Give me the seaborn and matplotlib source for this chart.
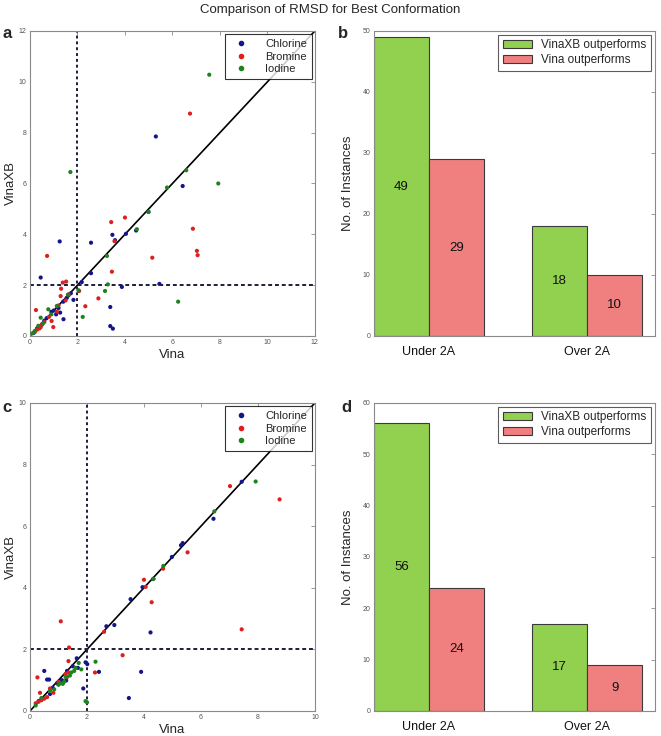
import numpy as np
import pandas as pd
import seaborn as sns
import matplotlib.pyplot as plt
from matplotlib.lines import Line2D

# scatter data, panel a (Vina RMSD, VinaXB RMSD)
a_chlorine_x = [5.3, 1.25, 0.45, 2.57, 2.57, 3.47, 3.58, 4.04, 4.47, 4.99, 6.43, 5.45, 3.87, 2.18, 3.38, 3.38, 3.49,
                1.72, 1.83, 1.62, 1.4, 1.27, 1.41, 1.1, 0.7, 0.9, 1.2, 0.6, 0.3, 0.15, 0.5, 1.55, 1.0]
a_chlorine_y = [7.85, 3.72, 2.3, 3.67, 2.47, 3.98, 3.77, 4.02, 4.15, 4.88, 5.9, 2.05, 1.93, 2.12, 1.14, 0.39, 0.29,
                1.68, 1.42, 1.6, 1.35, 0.92, 0.66, 0.85, 0.7, 0.95, 1.1, 0.6, 0.3, 0.12, 0.45, 1.5, 1.0]
a_bromine_x = [6.74, 0.72, 3.42, 4.0, 3.56, 3.45, 5.15, 6.86, 7.03, 7.06, 2.88, 2.33, 2.07, 1.38, 1.52, 1.31, 1.29,
               1.62, 1.5, 1.13, 0.91, 0.98, 0.25, 0.5, 0.4, 0.3, 0.6, 0.8, 1.2, 0.45, 0.2]
a_bromine_y = [8.75, 3.15, 4.48, 4.66, 3.73, 2.53, 3.08, 4.22, 3.35, 3.18, 1.48, 1.17, 1.77, 2.1, 2.14, 1.86, 1.57,
               1.64, 1.4, 0.96, 0.59, 0.35, 1.02, 0.45, 0.3, 0.25, 0.55, 0.75, 1.2, 0.35, 0.15]
a_iodine_x = [7.55, 1.7, 6.58, 5.77, 7.93, 6.24, 4.99, 4.5, 3.24, 3.28, 3.16, 2.22, 2.04, 1.13, 0.45, 0.77, 0.2,
              0.35, 0.9, 1.6, 0.1, 0.55]
a_iodine_y = [10.28, 6.45, 6.52, 5.84, 6.0, 1.35, 4.88, 4.2, 3.15, 2.03, 1.77, 0.75, 1.8, 1.18, 0.72, 1.05, 0.2,
              0.4, 0.85, 1.62, 0.1, 0.5]

# scatter data, panel c
c_chlorine_x = [7.43, 6.44, 5.36, 5.3, 4.98, 3.95, 4.33, 3.53, 2.96, 2.68, 4.23, 3.9, 3.47, 2.42, 1.95, 2.01, 1.87,
                1.64, 1.68, 0.5, 0.6, 0.67, 1.27, 1.12, 1.3, 0.8, 0.4, 0.3, 0.7, 1.5, 0.95]
c_chlorine_y = [7.44, 6.24, 5.45, 5.38, 5.0, 4.02, 4.29, 3.63, 2.79, 2.75, 2.55, 1.27, 0.42, 1.27, 1.58, 1.52, 0.73,
                1.71, 1.4, 1.3, 1.02, 1.02, 0.99, 1.0, 1.3, 0.75, 0.38, 0.32, 0.55, 1.45, 0.9]
c_bromine_x = [7.02, 8.76, 5.53, 4.67, 4.0, 4.06, 4.27, 7.43, 3.25, 2.6, 1.08, 1.37, 2.28, 1.35, 1.3, 1.35, 1.25,
               0.26, 0.35, 0.7, 0.82, 0.3, 0.4, 0.5, 1.0, 0.6, 0.2]
c_bromine_y = [7.3, 6.87, 5.15, 4.62, 4.26, 4.03, 3.53, 2.65, 1.81, 2.57, 2.91, 2.06, 1.25, 1.62, 1.1, 1.25, 1.2,
               1.09, 0.59, 0.73, 0.59, 0.3, 0.35, 0.4, 0.95, 0.45, 0.25]
c_iodine_x = [7.92, 6.47, 4.68, 4.33, 2.3, 1.95, 2.0, 1.71, 1.55, 1.4, 1.25, 1.05, 1.15, 1.2, 1.0, 0.85, 1.6, 1.8,
              0.7, 0.2, 0.4, 1.45]
c_iodine_y = [7.45, 6.48, 4.71, 4.29, 1.6, 0.32, 0.28, 1.56, 1.3, 1.15, 1.1, 0.9, 0.88, 0.95, 0.85, 0.7, 1.4, 1.35,
              0.65, 0.18, 0.42, 1.25]

# bar data
bar_categories = ['Under 2A', 'Over 2A']
bar_groups = ['VinaXB outperforms', 'Vina outperforms']
b_vinaxb = [49, 18]
b_vina = [29, 10]
d_vinaxb = [56, 17]
d_vina = [24, 9]

halogens = ['Chlorine', 'Bromine', 'Iodine']
dot_colors = {'Chlorine': '#14148c', 'Bromine': '#dc2020', 'Iodine': '#1e821e'}
bar_colors = {'VinaXB outperforms': '#92d050', 'Vina outperforms': '#f07f7f'}

sns.set_style('white')
plt.rcParams['font.family'] = ['Liberation Sans', 'DejaVu Sans']

fig = plt.figure(figsize=(6.61, 7.36), dpi=100)
ax_a = fig.add_axes([0.0454, 0.5435, 0.431, 0.4144])
ax_b = fig.add_axes([0.5658, 0.5435, 0.4251, 0.4144])
ax_c = fig.add_axes([0.0454, 0.034, 0.431, 0.4185])
ax_d = fig.add_axes([0.5658, 0.034, 0.4251, 0.4185])


def style_axes(ax):
    for s in ax.spines.values():
        s.set_color('#8a8a8a')
        s.set_linewidth(0.8)
    ax.tick_params(direction='in', length=3, width=0.6, colors='#8a8a8a', labelsize=5,
                   labelcolor='#555555', top=True, right=True, pad=2.5)


def scatter_panel(ax, xs, ys, lim, ticks):
    rows = []
    for name, x, y in zip(halogens, xs, ys):
        rows += [{'Vina': a, 'VinaXB': b, 'Halogen': name} for a, b in zip(x, y)]
    df = pd.DataFrame(rows)
    ax.plot([0, lim], [0, lim], color='black', lw=1.2, zorder=1)
    ax.axvline(2, color='#1c1c3c', lw=1.4, ls=(0, (1.5, 1.5)), zorder=1)
    ax.axhline(2, color='#1c1c3c', lw=1.4, ls=(0, (2, 1.5)), zorder=1)
    sns.scatterplot(data=df, x='Vina', y='VinaXB', hue='Halogen', palette=dot_colors,
                    s=9, linewidth=0, ax=ax, legend=False, zorder=3)
    ax.set_xlim(0, lim)
    ax.set_ylim(0, lim)
    ax.set_xticks(ticks)
    ax.set_yticks(ticks)
    ax.set_xlabel('Vina', fontsize=9.5, labelpad=1.5)
    ax.set_ylabel('VinaXB', fontsize=9.5, labelpad=1)
    handles = [Line2D([], [], marker='o', ls='', color=dot_colors[h], markersize=3) for h in halogens]
    leg = ax.legend(handles, halogens, loc='upper right', fontsize=8, frameon=True, fancybox=False,
                    borderaxespad=0.3, handletextpad=1.2, labelspacing=0.25, borderpad=0.4)
    leg.get_frame().set_edgecolor('black')
    leg.get_frame().set_linewidth(0.8)
    style_axes(ax)


def bar_panel(ax, vinaxb, vina, ymax):
    df = pd.DataFrame({
        'cat': bar_categories * 2,
        'group': [bar_groups[0]] * 2 + [bar_groups[1]] * 2,
        'count': vinaxb + vina,
    })
    sns.barplot(data=df, x='cat', y='count', hue='group', palette=bar_colors, width=0.7,
                saturation=1, edgecolor='#3a3a3a', linewidth=0.8, ax=ax)
    for cont in ax.containers:
        for bar in cont:
            h = bar.get_height()
            ax.text(bar.get_x() + bar.get_width() / 2, h / 2, f'{int(h)}',
                    ha='center', va='center', fontsize=9.5, color='#111111')
    ax.set_xlim(-0.348, 1.43)
    ax.set_ylim(0, ymax)
    ax.set_yticks(np.arange(0, ymax + 1, 10))
    ax.set_xlabel('')
    ax.set_ylabel('No. of Instances', fontsize=9.5, labelpad=6)
    leg = ax.legend(loc='upper right', fontsize=8.5, frameon=True, fancybox=False,
                    borderaxespad=0.3, handlelength=2.5, handletextpad=0.8,
                    labelspacing=0.25, borderpad=0.4)
    leg.get_frame().set_edgecolor('#333333')
    leg.get_frame().set_linewidth(0.8)
    style_axes(ax)
    ax.tick_params(axis='x', labelsize=9, labelcolor='#111111', length=0, pad=7)
    ax.tick_params(axis='x', which='both', top=False)


scatter_panel(ax_a, [a_chlorine_x, a_bromine_x, a_iodine_x], [a_chlorine_y, a_bromine_y, a_iodine_y],
              12, np.arange(0, 13, 2))
scatter_panel(ax_c, [c_chlorine_x, c_bromine_x, c_iodine_x], [c_chlorine_y, c_bromine_y, c_iodine_y],
              10, np.arange(0, 11, 2))
bar_panel(ax_b, b_vinaxb, b_vina, 50)
bar_panel(ax_d, d_vinaxb, d_vina, 60)

fig.text(0.5, 0.986, 'Comparison of RMSD for Best Conformation', ha='center', va='center', fontsize=9.5)
for letter, x, y in [('a', 0.004, 0.954), ('b', 0.512, 0.954), ('c', 0.004, 0.446), ('d', 0.516, 0.447)]:
    fig.text(x, y, letter, fontsize=12, fontweight='bold', ha='left', va='center')

plt.savefig('out.png', dpi=100)
